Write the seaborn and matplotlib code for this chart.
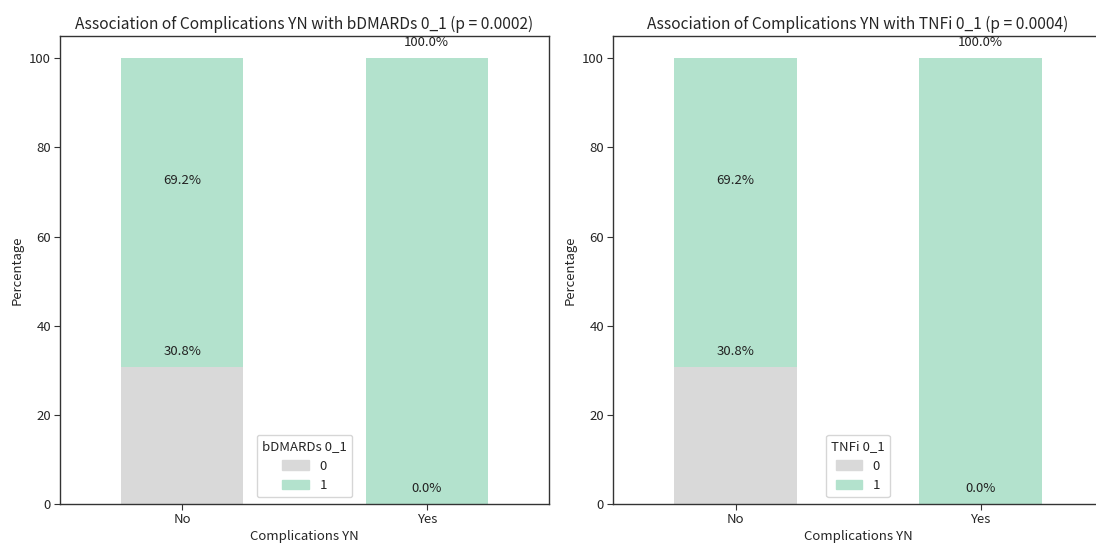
import matplotlib
matplotlib.use("Agg")
import matplotlib.pyplot as plt
import matplotlib.patches as mpatches
import seaborn as sns
import pandas as pd

# ------------------------ 数据 ------------------------
groups = ["No", "Yes"]
panels = ["bDMARDs 0_1", "TNFi 0_1"]
p_values = ["0.0002", "0.0004"]
pct_0 = [30.8, 0.0]   # 0 category share per group
pct_1 = [69.2, 100.0]  # 1 category share per group

colors = {"0": "#d9d9d9", "1": "#b3e2cd"}

sns.set_style("white")
plt.rcParams["font.family"] = ["Noto Sans CJK SC", "DejaVu Sans"]

fig = plt.figure(figsize=(10.96, 5.46), dpi=100)
ax1 = fig.add_axes([60 / 1096, 42 / 546, 489 / 1096, 468 / 546])
ax2 = fig.add_axes([613 / 1096, 42 / 546, 490 / 1096, 468 / 546])

for ax, var, p in zip([ax1, ax2], panels, p_values):
    df = pd.DataFrame({"group": groups, "p0": pct_0, "p1": pct_1})
    df["total"] = df["p0"] + df["p1"]
    # stacked: draw total in "1" colour, then "0" over the bottom
    sns.barplot(data=df, x="group", y="total", color=colors["1"], width=0.5,
                saturation=1, linewidth=0, ax=ax)
    sns.barplot(data=df, x="group", y="p0", color=colors["0"], width=0.5,
                saturation=1, linewidth=0, ax=ax)
    for i, row in df.iterrows():
        for val in [row["p0"], row["p1"]]:
            ax.text(i, val + 2, f"{val:.1f}%", ha="center", va="bottom",
                    fontsize=9.5, color="#222222")
    ax.set_ylim(0, 105)
    ax.set_title(f"Association of Complications YN with {var} (p = {p})",
                 fontsize=11.2, pad=5)
    ax.set_xlabel("Complications YN", fontsize=9.5, labelpad=3)
    ax.set_ylabel("Percentage", fontsize=9.5)
    ax.tick_params(axis="both", labelsize=9.5, left=True, bottom=True,
                   length=4, pad=2.5, color="#333333")
    for s in ax.spines.values():
        s.set_color("#333333")
        s.set_linewidth(1)
    handles = [mpatches.Patch(color=colors["0"], label="0"),
               mpatches.Patch(color=colors["1"], label="1")]
    ax.legend(handles=handles, title=var, loc="lower center", fontsize=9.5,
              title_fontsize=9.5)

fig.savefig("out.png", dpi=100)
